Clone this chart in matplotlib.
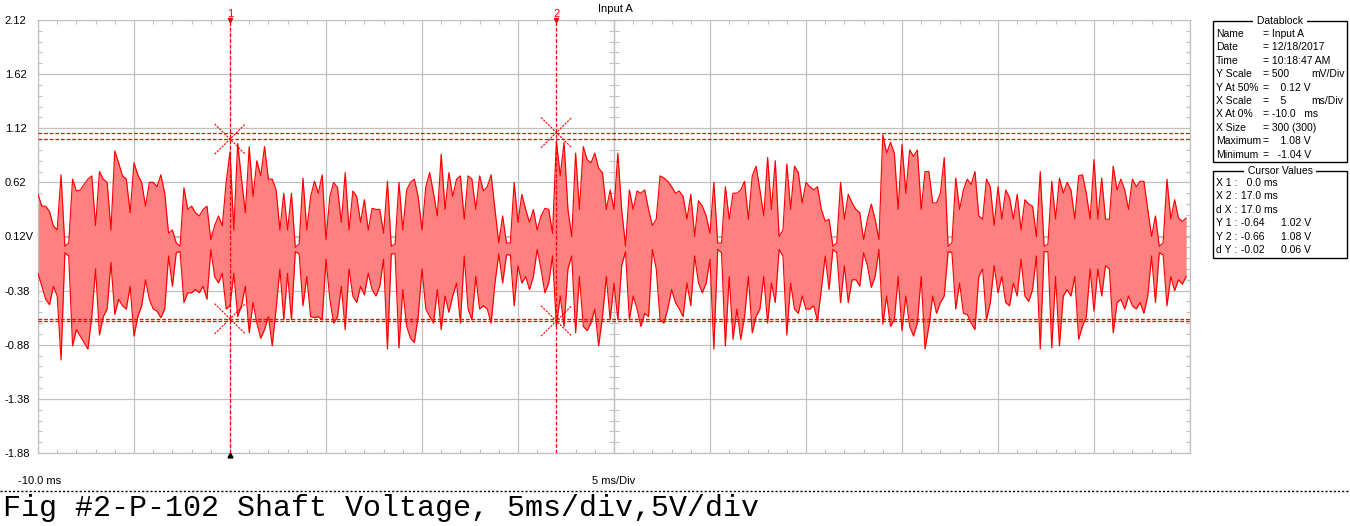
import numpy as np
import matplotlib
matplotlib.use('Agg')
import matplotlib.pyplot as plt
from matplotlib.ticker import MultipleLocator
from matplotlib.lines import Line2D
from matplotlib.patches import Rectangle

# peak-detect record: 300 points, 0.2 ms apart (X at 0% = -10 ms, 5 ms/div)
x_start = -10.0
x_step = 0.2
v_max = [
    0.51, 0.40, 0.40, 0.35, 0.22, 0.18, 0.69, 0.03, 0.06, 0.65,
    0.54, 0.55, 0.60, 0.65, 0.68, 0.22, 0.72, 0.65, 0.62, 0.18,
    0.91, 0.80, 0.68, 0.65, 0.34, 0.80, 0.69, 0.62, 0.40, 0.62,
    0.62, 0.58, 0.69, 0.52, 0.15, 0.18, 0.06, 0.03, 0.57, 0.37,
    0.40, 0.34, 0.31, 0.37, 0.40, 0.09, 0.22, 0.31, 0.22, 0.62,
    0.90, 0.18, 0.98, 0.65, 0.34, 0.95, 0.49, 0.82, 0.68, 0.95,
    0.65, 0.65, 0.55, 0.18, 0.52, 0.18, 0.52, 0.02, 0.05, 0.66,
    0.18, 0.49, 0.63, 0.52, 0.69, 0.09, 0.49, 0.62, 0.57, 0.25,
    0.71, 0.18, 0.54, 0.49, 0.25, 0.46, 0.18, 0.38, 0.37, 0.37,
    0.15, 0.63, 0.03, 0.05, 0.62, 0.18, 0.55, 0.62, 0.65, 0.49,
    0.18, 0.58, 0.71, 0.52, 0.31, 0.88, 0.37, 0.71, 0.49, 0.65,
    0.68, 0.28, 0.68, 0.65, 0.37, 0.68, 0.54, 0.58, 0.69, 0.37,
    0.06, 0.31, 0.06, 0.06, 0.62, 0.25, 0.51, 0.37, 0.25, 0.37,
    0.18, 0.31, 0.38, 0.37, 0.15, 1.00, 0.68, 0.99, 0.37, 0.12,
    0.89, 0.37, 0.95, 0.83, 0.80, 0.89, 0.75, 0.71, 0.37, 0.55,
    0.37, 0.89, 0.37, 0.03, 0.55, 0.37, 0.54, 0.52, 0.55, 0.37,
    0.22, 0.28, 0.68, 0.66, 0.63, 0.58, 0.52, 0.54, 0.49, 0.28,
    0.51, 0.12, 0.45, 0.40, 0.31, 0.15, 0.62, 0.06, 0.06, 0.58,
    0.28, 0.52, 0.52, 0.55, 0.63, 0.28, 0.68, 0.77, 0.55, 0.31,
    0.85, 0.37, 0.82, 0.12, 0.18, 0.79, 0.37, 0.77, 0.71, 0.43,
    0.62, 0.58, 0.55, 0.58, 0.37, 0.26, 0.28, 0.03, 0.06, 0.62,
    0.28, 0.51, 0.43, 0.37, 0.34, 0.09, 0.28, 0.42, 0.28, 0.09,
    1.06, 0.89, 0.99, 0.89, 0.37, 0.97, 0.52, 0.92, 0.86, 0.92,
    0.37, 0.72, 0.72, 0.43, 0.43, 0.52, 0.85, 0.03, 0.06, 0.66,
    0.37, 0.55, 0.65, 0.60, 0.72, 0.31, 0.28, 0.65, 0.58, 0.22,
    0.58, 0.28, 0.55, 0.48, 0.28, 0.51, 0.18, 0.46, 0.42, 0.40,
    0.12, 0.72, 0.03, 0.05, 0.63, 0.28, 0.66, 0.52, 0.62, 0.55,
    0.28, 0.68, 0.69, 0.52, 0.28, 0.83, 0.28, 0.66, 0.28, 0.28,
    0.77, 0.55, 0.65, 0.55, 0.37, 0.65, 0.58, 0.63, 0.63, 0.37,
    0.12, 0.31, 0.03, 0.06, 0.65, 0.28, 0.46, 0.29, 0.26, 0.29,
]
v_min = [
    -0.22, -0.34, -0.46, -0.51, -0.34, -0.43, -1.02, -0.03, -0.06, -0.89,
    -0.74, -0.80, -0.86, -0.92, -0.62, -0.18, -0.79, -0.62, -0.55, -0.12,
    -0.60, -0.46, -0.52, -0.55, -0.34, -0.80, -0.62, -0.52, -0.28, -0.46,
    -0.55, -0.57, -0.63, -0.55, -0.06, -0.34, -0.03, -0.02, -0.49, -0.40,
    -0.40, -0.37, -0.40, -0.34, -0.46, 0.00, -0.25, -0.31, -0.22, -0.55,
    -0.52, -0.22, -0.62, -0.52, -0.34, -0.77, -0.49, -0.68, -0.82, -0.74,
    -0.62, -0.89, -0.55, -0.18, -0.65, -0.22, -0.65, -0.02, -0.04, -0.52,
    -0.25, -0.62, -0.63, -0.62, -0.65, -0.09, -0.46, -0.68, -0.62, -0.34,
    -0.74, -0.18, -0.43, -0.49, -0.34, -0.42, -0.22, -0.37, -0.43, -0.34,
    -0.09, -0.92, -0.04, -0.04, -0.91, -0.37, -0.71, -0.82, -0.86, -0.62,
    -0.18, -0.55, -0.62, -0.68, -0.37, -0.74, -0.43, -0.58, -0.43, -0.31,
    -0.68, -0.06, -0.55, -0.65, -0.25, -0.55, -0.52, -0.55, -0.68, -0.31,
    -0.04, -0.31, -0.05, -0.05, -0.52, -0.15, -0.31, -0.25, -0.37, -0.25,
    0.00, -0.18, -0.40, -0.31, -0.06, -0.71, -0.43, -0.71, -0.18, -0.06,
    -0.77, -0.25, -0.71, -0.75, -0.68, -0.55, -0.89, -0.62, -0.25, -0.65,
    -0.31, -0.65, -0.15, -0.02, -0.65, -0.43, -0.55, -0.71, -0.59, -0.62,
    0.00, -0.18, -0.65, -0.68, -0.55, -0.37, -0.49, -0.55, -0.62, -0.31,
    -0.52, -0.06, -0.31, -0.40, -0.31, -0.09, -0.92, 0.00, -0.03, -0.89,
    -0.25, -0.83, -0.55, -0.83, -0.62, -0.25, -0.77, -0.62, -0.55, -0.25,
    -0.68, -0.31, -0.49, 0.00, -0.06, -0.79, -0.31, -0.55, -0.59, -0.43,
    -0.55, -0.55, -0.52, -0.66, -0.37, -0.06, -0.37, 0.00, -0.03, -0.49,
    -0.15, -0.49, -0.28, -0.28, -0.34, -0.03, -0.15, -0.35, -0.25, 0.00,
    -0.69, -0.43, -0.71, -0.65, -0.25, -0.75, -0.43, -0.71, -0.80, -0.68,
    -0.25, -0.92, -0.71, -0.43, -0.59, -0.49, -0.43, -0.02, -0.03, -0.55,
    -0.31, -0.59, -0.60, -0.68, -0.74, -0.25, -0.18, -0.65, -0.49, -0.15,
    -0.40, -0.25, -0.49, -0.52, -0.31, -0.43, -0.09, -0.43, -0.48, -0.37,
    -0.06, -0.92, -0.02, -0.02, -0.91, -0.25, -0.89, -0.43, -0.37, -0.43,
    -0.25, -0.83, -0.71, -0.62, -0.18, -0.57, -0.18, -0.43, -0.15, -0.18,
    -0.77, -0.49, -0.46, -0.55, -0.43, -0.52, -0.55, -0.49, -0.59, -0.43,
    -0.06, -0.49, -0.03, -0.05, -0.52, -0.25, -0.38, -0.28, -0.32, -0.25,
]

y_ticks = [2.12, 1.62, 1.12, 0.62, 0.12, -0.38, -0.88, -1.38, -1.88]
y_labels = ['2.12', '1.62', '1.12', '0.62', '0.12V', '-0.38', '-0.88', '-1.38', '-1.88']

# cursors: time, low value, high value
cursor_names = ['1', '2']
cursor_t = [0.0, 17.0]
cursor_lo = [-0.64, -0.66]
cursor_hi = [1.02, 1.08]

datablock = [
    ('Name', '= Input A', ''),
    ('Date', '= 12/18/2017', ''),
    ('Time', '= 10:18:47 AM', ''),
    ('Y Scale', '= 500', 'mV/Div'),
    ('Y At 50%', '=    0.12 V', ''),
    ('X Scale', '=    5', 'ms/Div'),
    ('X At 0%', '= -10.0   ms', ''),
    ('X Size', '= 300 (300)', ''),
    ('Maximum', '=    1.08 V', ''),
    ('Minimum', '=   -1.04 V', ''),
]
cursor_rows = [
    ('X 1 :', '   0.0 ms', ''),
    ('X 2 :', ' 17.0 ms', ''),
    ('d X :', ' 17.0 ms', ''),
    ('Y 1 :', ' -0.64', '1.02 V'),
    ('Y 2 :', ' -0.66', '1.08 V'),
    ('d Y :', ' -0.02', '0.06 V'),
]
caption = 'Fig #2-P-102 Shaft Voltage, 5ms/div,5V/div'

W, H = 1350, 526
grid_c = '#c0c0c0'
font = 'Liberation Sans'


def fx(x):
    return x / W


def fy(y):
    return 1 - y / H


fig = plt.figure(figsize=(W / 100, H / 100), dpi=100)
ax = fig.add_axes([fx(38), fy(453), 1152 / W, 433 / H])

t = x_start + x_step * np.arange(len(v_max))
ax.fill_between(t, v_min, v_max, color='#ff8080', lw=0, zorder=2)
ax.plot(t, v_max, color='#ff0000', lw=0.85, zorder=3)
ax.plot(t, v_min, color='#ff0000', lw=0.85, zorder=3)

ax.set_xlim(-10, 50)
ax.set_ylim(-1.88, 2.12)
ax.set_xticks(np.arange(-10, 51, 5))
ax.set_xticklabels([])
ax.set_yticks(y_ticks, y_labels)
for lab in ax.get_yticklabels():
    lab.set_horizontalalignment('left')
    lab.set_fontfamily(font)
    lab.set_fontsize(8)
ax.tick_params(which='major', length=0)
ax.tick_params(axis='y', which='major', pad=24)
ax.xaxis.set_minor_locator(MultipleLocator(1))
ax.yaxis.set_minor_locator(MultipleLocator(0.1, offset=0.02))
ax.tick_params(which='minor', direction='in', length=3, width=0.8, color=grid_c,
               top=True, right=True)
ax.grid(True, which='major', color=grid_c, lw=0.9)
ax.set_axisbelow(True)
for s in ax.spines.values():
    s.set_color(grid_c)
    s.set_linewidth(0.9)

# centre cross-hair with graduations
sx = ax.secondary_xaxis(0.5)
sx.set_xticks([])
sx.xaxis.set_minor_locator(MultipleLocator(1))
sx.tick_params(which='minor', direction='inout', length=7, width=0.8, color=grid_c,
               labelbottom=False, labeltop=False)
for s in sx.spines.values():
    s.set_color(grid_c)
    s.set_linewidth(0.9)
sy = ax.secondary_yaxis(0.5)
sy.set_yticks([])
sy.yaxis.set_minor_locator(MultipleLocator(0.1, offset=0.02))
sy.tick_params(which='minor', direction='inout', length=7, width=0.8, color=grid_c,
               labelleft=False, labelright=False)
for s in sy.spines.values():
    s.set_color(grid_c)
    s.set_linewidth(0.9)

# cursors
dash = (0, (3, 1.5))
for name, ct, lo, hi in zip(cursor_names, cursor_t, cursor_lo, cursor_hi):
    ax.axvline(ct, color='red', lw=0.9, ls=dash, zorder=4)
    ax.axhline(lo, color='red', lw=0.9, ls=dash, zorder=4)
    ax.axhline(hi, color='red', lw=0.9, ls=dash, zorder=4)
    for v in (lo, hi):
        ax.plot([ct - 0.8, ct + 0.8], [v - 0.14, v + 0.14], color='red', lw=0.8,
                ls=(0, (2, 1)), zorder=5)
        ax.plot([ct - 0.8, ct + 0.8], [v + 0.14, v - 0.14], color='red', lw=0.8,
                ls=(0, (2, 1)), zorder=5)
    tr = ax.get_xaxis_transform()
    ax.plot([ct], [1.0], marker='v', color='red', ms=3, transform=tr, clip_on=False, zorder=6)
    ax.text(ct, 1.003, name, transform=tr, color='red', ha='center', va='bottom',
            fontsize=8, family=font)
ax.plot([cursor_t[0]], [-0.005], marker='^', color='black', ms=3.5,
        transform=ax.get_xaxis_transform(), clip_on=False, zorder=6)

fig.text(fx(615), fy(9), 'Input A', ha='center', va='center', fontsize=8, family=font)
fig.text(fx(18), fy(481), '-10.0 ms', ha='left', va='center', fontsize=8, family=font)
fig.text(fx(614), fy(481), '5 ms/Div', ha='center', va='center', fontsize=8, family=font)

fig.add_artist(Line2D([0, 1], [fy(491), fy(491)], transform=fig.transFigure,
                      color='black', lw=1, ls=(0, (1.5, 1.5))))
fig.text(fx(3), fy(508), caption, ha='left', va='center', fontsize=21.6,
         family='Liberation Mono')

# datablock panel
def panel(top, bottom, title, rows, y0, cols):
    fig.add_artist(Rectangle((fx(1213), fy(bottom)), fx(1347) - fx(1213), fy(top) - fy(bottom),
                             transform=fig.transFigure, fill=False, ec='black', lw=1))
    fig.text(fx(1280), fy(top), ' ' + title + ' ', ha='center', va='center', fontsize=7.5,
             family=font, bbox=dict(fc='white', ec='none', pad=0.5))
    for k, row in enumerate(rows):
        for x, txt in zip(cols, row):
            fig.text(fx(x), fy(y0 + k * 13.4), txt, ha='left', va='center', fontsize=7.5,
                     family=font)


panel(21, 162, 'Datablock', datablock, 34, (1216, 1263, 1311))
panel(171, 258, 'Cursor Values', cursor_rows, 183, (1216, 1238, 1281))

fig.savefig('out.png', dpi=100)
